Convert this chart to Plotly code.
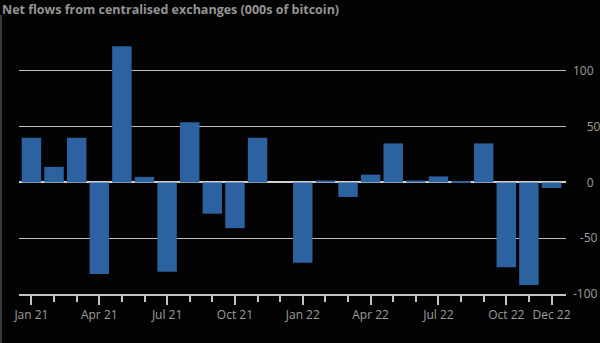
import plotly.graph_objects as go

months = ["Jan 21", "Feb 21", "Mar 21", "Apr 21", "May 21", "Jun 21",
          "Jul 21", "Aug 21", "Sep 21", "Oct 21", "Nov 21", "Dec 21",
          "Jan 22", "Feb 22", "Mar 22", "Apr 22", "May 22", "Jun 22",
          "Jul 22", "Aug 22", "Sep 22", "Oct 22", "Nov 22", "Dec 22"]
net_flows = [40, 14, 40, -82, 122, 5,
             -80, 54, -28, -41, 40, 0,
             -72, 1.8, -13, 7, 35, 1.8,
             5.4, 0.5, 35, -76, -92, -5]
labelled_months = ["Jan 21", "Apr 21", "Jul 21", "Oct 21", "Jan 22",
                   "Apr 22", "Jul 22", "Oct 22", "Dec 22"]
y_ticks = [-100, -50, 0, 50, 100]
y_tick_text = ["-100", "\u2007-50", "\u2007\u20070", "\u2007\u200750", "100"]

x_pos = list(range(len(months)))
major_vals = [months.index(m) for m in labelled_months]

AX = "#c4c4c4"
TXT = "#9d9d9d"
FONT = "Open Sans"

fig = go.Figure(go.Bar(
    x=x_pos, y=net_flows,
    marker=dict(color="#2d62a0", line=dict(width=0)),
    hovertext=months,
))

fig.update_layout(
    width=600, height=343,
    margin=dict(l=19, r=34, t=43, b=49, autoexpand=False),
    paper_bgcolor="#030303", plot_bgcolor="#030303",
    bargap=0.14,
    showlegend=False,
    font=dict(family=FONT, color=TXT, size=12),
    title=dict(
        text="Net flows from centralised exchanges (000s of bitcoin)",
        x=2 / 600, xanchor="left", xref="container",
        y=1 - 10 / 343, yanchor="middle", yref="container",
        font=dict(family=FONT, size=12.5, color="#949494", weight=700),
    ),
    xaxis=dict(
        range=[-0.55, 23.64], automargin=False,
        tickmode="array", tickvals=major_vals, ticktext=labelled_months,
        ticks="outside", ticklen=9, tickcolor=AX, tickwidth=1.5,
        minor=dict(tickmode="linear", tick0=0, dtick=1, ticks="outside",
                   ticklen=6, tickcolor=AX, tickwidth=1.5, showgrid=False),
        showline=True, linecolor=AX, linewidth=1.5,
        showgrid=False, zeroline=False,
        tickfont=dict(family=FONT, size=12, color=TXT),
    ),
    yaxis=dict(
        range=[-100, 125], side="right", automargin=False,
        tickmode="array", tickvals=y_ticks, ticktext=y_tick_text,
        showgrid=True, gridcolor="#bdbdbd", gridwidth=1,
        zeroline=True, zerolinecolor="#d0d0d0", zerolinewidth=1.5,
        ticks="", showline=False,
        tickfont=dict(family=FONT, size=12, color=TXT),
        ticklabelstandoff=6,
    ),
    shapes=[dict(type="line", xref="paper", yref="paper",
                 x0=-18 / 547, x1=-18 / 547,
                 y0=-49 / 251, y1=1 + 28 / 251,
                 line=dict(color="#3a3a3a", width=2))],
)

fig.write_html("out.html")
